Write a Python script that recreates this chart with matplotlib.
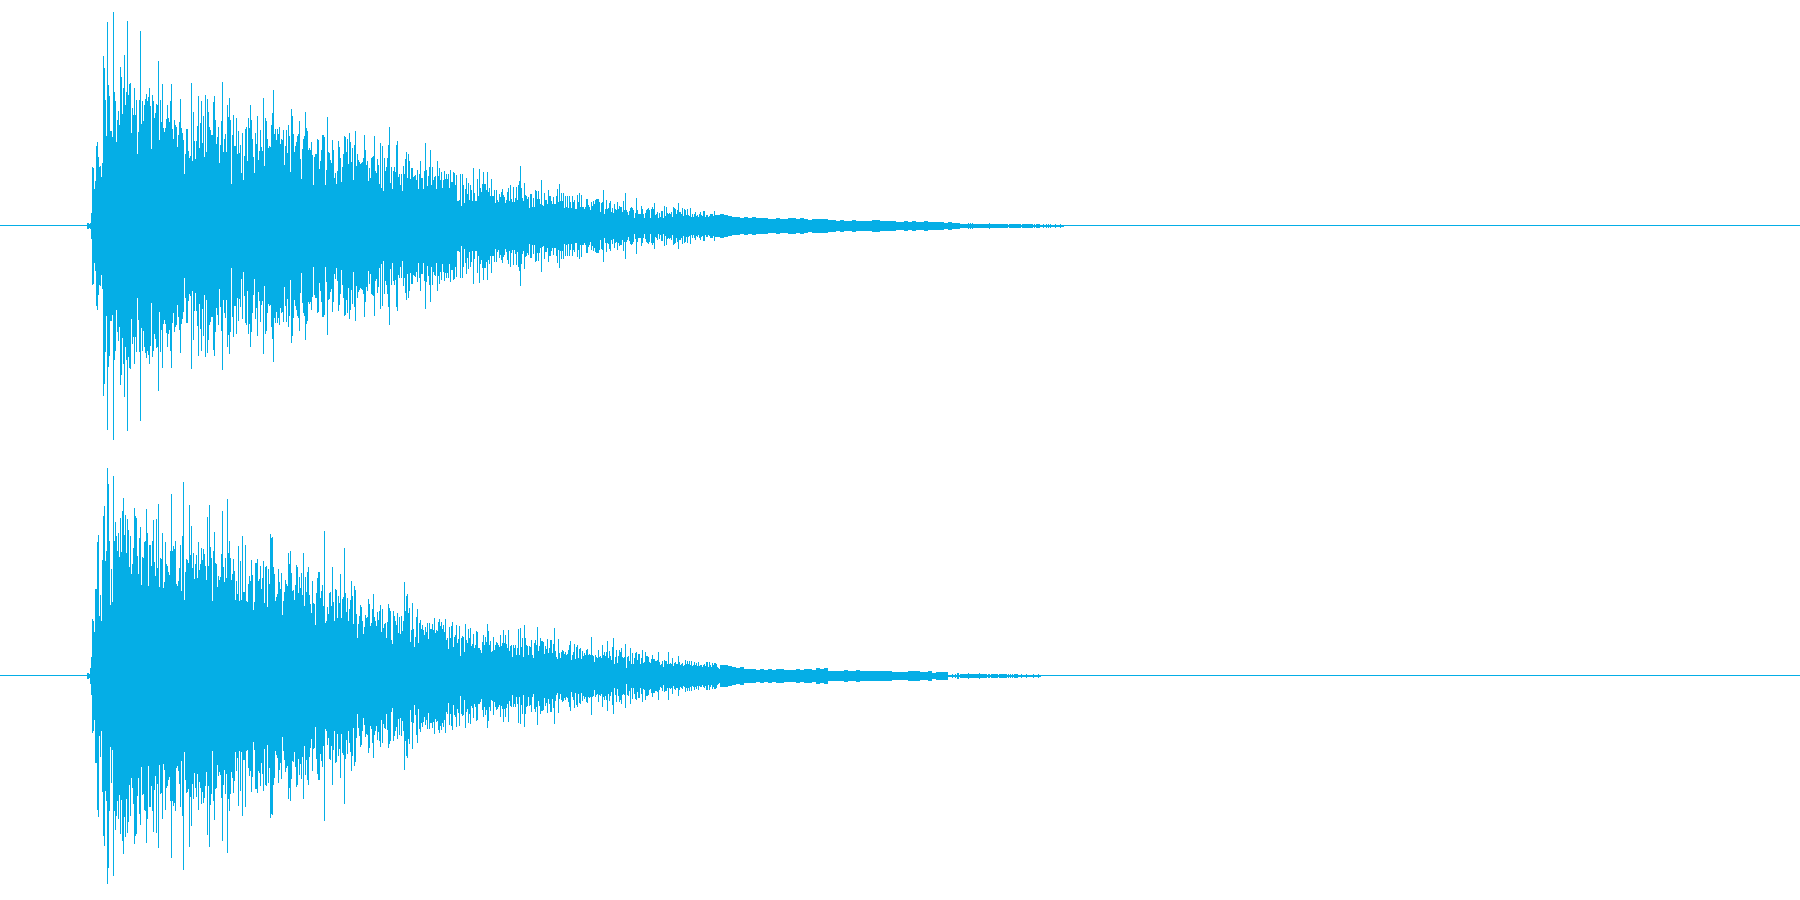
import numpy as np
import matplotlib
matplotlib.use("Agg")
import matplotlib.pyplot as plt

# Peak amplitude (in 1/225 of full scale)
ch1_attack = [2,2,1,2,12,58,57,36,44,79,83,68,58,59,48,62,169,157,125,89,203,140,129,94,94,88,213,133,124,83,105,114,100,158,148,111,137,170,120,133,204,130,141,142,92,117,110,137,110,125,71,93,125,194,101,124,104,120,126,131,124,128,137,119,76,130,124,107,112,121,120,164,85,125,103,141,97,93,97,106,120,107,103,124,141,96,86,105,100,98,78,90,103,126,97,92,85,51,71,96,96,74,67,69,142,64,113,84,66,84,99,129,77,102,124,82,109,68,130,73,126,113,98,95,90,90,123,129,105,81,88,98,62,80,104,143,73,86,91,73,120,108,127,105,41,90,110,79,79,107,71,94,72,80,52,92,45,69,96,98,64,107,97,120,105,86,68,52,92,81,109,65,74,95,78,74,127,59,107,104,86,77,79,78,100,112,135,91,96,85,96,91,98,81,86,85,95,60,79,95,72,100,89,53,116,109,91,73,79,83,89,91,104,66,46,76,86,89,113,97,94,75,77,75,83,70,40,68,71,71,86,85,56,64,75,90,90,88,40,55,108,73,72,65,62,85,75,47,52,41,54,84,78,67,43,58,71,89,88,73,86,61,92,83,63,77,45,80,94,59,71,65,63]
ch1_decay = [61,62,63,67,90,75,60,64,44,57,47,67,68,69,89,54,52,66,60,41,82,37,79,34,67,54,58,67,80,98,42,58,36,54,58,53,80,84,48,51,40,51,34,59,51,66,73,47,71,64,46,57,57,48,49,50,45,55,36,51,64,47,47,36,54,82,55,39,49,58,75,40,58,45,48,49,36,64,49,57,45,53,37,45,54,46,51,46,51,37,55,43,43,53,52,40,50,24,24,25,51,19,51,40,22,36,47,31,42,25,40,35,24,57,32,24,24,46,29,56,37,33,41,53,41,41,35,53,33,37,29,46,29,29,35,22,35,25,23,31,28,33,36,30,28,22,25,33,37,24,40,26,23,38,23,27,38,25,40,44,59,37,27,24,42,30,29,26,28,17,31,31,18,27,18,35,34,26,34,26,21,45,20,19,32,25,25,21,35,29,29,24,21,28,21,21,29,36,23,41,24,32,24,32,17,29,18,29,17,29,23,17,29,23,25,16,16,30,23,32,18,30,18,18,16,18,26,26,20,18,15,23,19,24,21,25,26,26,26,23,13,22,23,35,11,16,25,16,17,22,24,13,17,12,21,16,15,23,16,19,18,18,13,24,15,32,15,13,10,14,17,18,17,15,7,12,27,15,11,11,11,19,16,11,7,12,15,16,17,15,7,16,18,16,22,10,11,13,7,12,8,14,14,7,19,9,18,12,11,12,11,13,8,18,17,16,11,15,22,13,13,11,17,9,16,15,10,16,10,9,17,8,11,8,11,13,9,10,8,11,13,10,9,14,14,8,10,10,8,9,11,11,11,9,14,10]
ch1_tail = [11,10,9,8,8,7,8,7,8,7,7,7,6,6,7,6,6,7,7,6,7,6,5,6,6,6,6,5,5,4,5,4,4,5,4,4,4,4,5,5,4,4,4,4,3,3,4,3,4,3,3,4,3,3,3,3,2,3,2,2]
ch1_fade = [1,1,1,1,1,1,1,1,2,1,2,1,2,1,1,1,1,1,1,1,1,1,1,1,1,1,1,1,1,2,1,1,1,1,1,1,1,1,1,1,1,1,1,1,1,1,1,1,0,1,1,1,1,1,1,1,1,1,1,1,1,0,1,1,1,1,1,1,1,1,1,1,1,0,1,0,1,1,1,1,0,0,0,1,0,0,1,0,1,0,1,0,0,0,0,1,0,0,0,0,1,0,0,0]

ch2_attack = [2,2,1,7,18,56,54,43,86,86,133,140,59,80,54,115,159,169,114,124,207,191,134,70,106,73,199,134,153,139,124,142,118,157,123,164,177,140,160,122,156,145,108,139,101,111,127,167,159,157,119,101,137,148,90,118,117,133,134,166,142,89,130,130,109,134,155,113,99,156,107,171,88,117,116,142,87,93,133,111,109,103,100,124,181,124,129,126,134,91,89,94,107,130,84,139,193,75,103,116,115,112,170,120,149,107,122,96,111,120,97,133,105,111,127,115,126,121,109,95,158,109,170,128,117,74,124,143,112,111,88,99,95,98,121,164,108,93,117,97,176,122,134,117,95,101,116,104,75,94,81,129,74,114,75,139,83,83,130,74,73,91,99,94,115,100,65,73,112,112,116,94,96,109,86,97,114,72,108,109,68,106,91,141,137,138,108,101,74,78,81,106,93,86,102,60,74,83,95,91,89,122,111,124,102,84,85,75,90,110,108,82,98,87,102,80,122,69,98,83,103,108,80,71,62,94,72,71,50,82,97,103,103,77,84,90,69,144,52,54,68,61,82,83,69,108,73,54,86,85,57,79,72,101,57,76,78,127,82,63,77,54,66,75,94,79,51,89,85,61,37,51,59]
ch2_decay = [70,68,54,41,48,60,57,58,76,71,49,52,66,81,58,54,49,63,55,64,70,43,66,47,51,52,37,53,71,67,64,35,31,64,59,54,50,62,42,58,41,59,44,54,93,64,79,81,62,67,33,45,72,46,28,38,58,66,32,52,55,46,50,45,40,48,43,52,36,52,46,46,51,45,57,42,45,44,53,56,49,53,46,50,43,56,35,37,26,48,37,49,53,28,38,40,50,32,36,49,19,37,39,38,23,51,35,32,46,37,47,29,31,41,27,30,44,43,27,27,25,22,33,40,30,38,33,51,44,30,34,23,24,38,25,30,33,32,30,28,40,29,32,45,32,40,31,27,45,24,29,30,18,30,27,30,20,27,46,20,47,28,37,18,50,37,30,29,20,29,28,35,20,17,32,35,30,48,24,29,37,34,34,33,21,29,26,36,22,27,35,35,22,31,47,24,18,16,36,22,17,23,25,24,21,23,20,21,25,30,34,15,20,23,31,16,28,30,17,26,27,16,24,19,22,20,25,26,20,21,20,38,20,19,13,20,18,17,25,18,19,17,30,20,23,19,23,34,17,24,19,15,28,37,11,18,25,12,19,25,23,27,18,17,18,31,7,18,19,14,27,11,22,11,17,22,23,15,21,21,11,17,25,12,13,23,19,19,18,13,12,16,20,16,16,14,14,15,23,13,10,11,14,8,15,14,14,11,23,11,12,11,17,9,12,13,11,11,19,13,10,11,12,9,10,15,11,14,11,14,10,14,9,10,13,10,12,9,13,9,10,10,8,10,11,9,13,13,8,13,10,8,12,10,12,12,11,8,7,6]
ch2_tail = [10,10,9,8,7,8,6,6,6,5,6,5,6,5,6,6,5,5,5,6,5,6,6,5,7,6,7,4,4,4,4,5,4,4,5,4,4,4,4,4,4,4,4,3,3,3,3,4,4,4,3,3,4,2,3,3,3]
ch2_fade = [0,0,0,0,1,0,0,1,0,2,2,0,1,1,1,1,1,1,1,1,2,1,1,1,1,1,1,1,1,1,1,2,1,1,1,1,1,1,1,0,1,1,0,1,1,1,1,1,1,1,0,1,1,1,1,1,1,1,1,0,1,0,1,0,1,0,1,1,1,1,0,0,0,1,0,0,0,0,1,0,0,0,0,0,0,1,0,0,0,0,1,0,0]

attack_start, decay_start, tail_start, tail_step = 87, 360, 720, 4
total_columns = 1800
wave_color = "#05AEE6"


def columns(start, end, step, env):
    x = np.arange(start, end)
    idx = np.minimum((x - start) // step, len(env) - 1)
    return x, np.asarray(env, dtype=float)[idx]


def draw_channel(ax, attack, decay, tail, fade):
    ax.set_xlim(0, total_columns)
    ax.set_ylim(-224.5, 225.5)
    ax.axis("off")
    ax.axhspan(-0.5, 0.5, color=wave_color, lw=0, antialiased=False, zorder=1)
    fade_start = tail_start + tail_step * len(tail)
    for start, end, step, env in [(attack_start, decay_start, 1, attack),
                                  (decay_start, tail_start, 1, decay),
                                  (tail_start, fade_start, tail_step, tail),
                                  (fade_start, fade_start + len(fade), 1, fade)]:
        x, a = columns(start, end, step, env)
        ax.vlines(x, -a - 0.5, a + 0.5, colors=wave_color, linewidths=0.72,
                  capstyle="butt", antialiased=False, zorder=2)


fig = plt.figure(figsize=(18, 9), dpi=100, facecolor="white")
top = fig.add_axes([0, 0.5, 1, 0.5])
bottom = fig.add_axes([0, 0, 1, 0.5])
draw_channel(top, ch1_attack, ch1_decay, ch1_tail, ch1_fade)
draw_channel(bottom, ch2_attack, ch2_decay, ch2_tail, ch2_fade)
fig.savefig("out.png", dpi=100)
